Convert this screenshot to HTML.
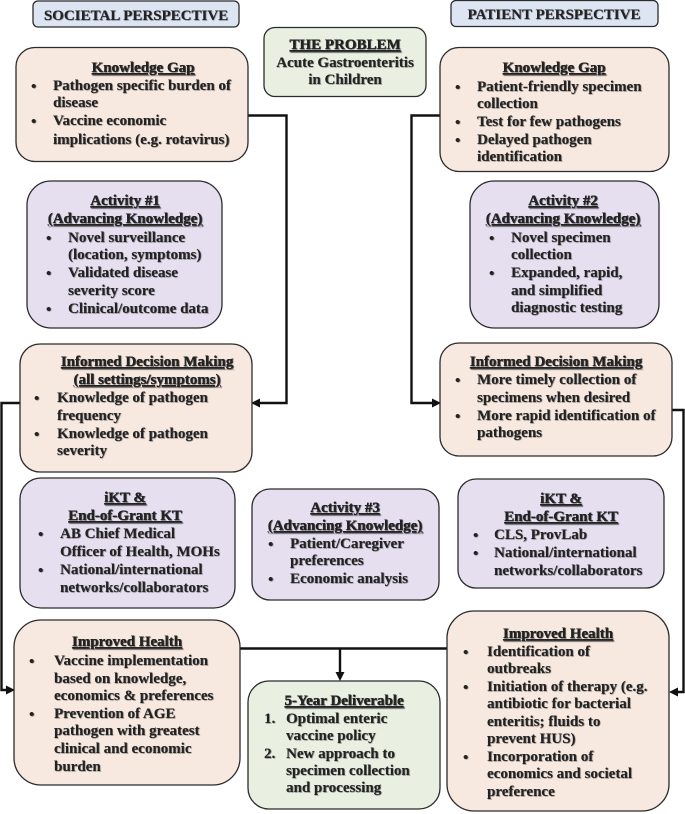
<!DOCTYPE html>
<html><head><meta charset="utf-8"><style>
html,body{margin:0;padding:0;background:#fff;width:685px;height:814px;overflow:hidden}
svg{display:block}
text{font-family:"Liberation Serif",serif;font-weight:bold;font-size:15px;fill:#222;text-shadow:0.7px 0.7px 0.7px rgba(60,60,60,.75)}
.c{text-anchor:middle}
.u{text-decoration:underline}
.b{stroke:#2b2b2b;stroke-width:1.3}
.p{fill:#f8e9e0}.v{fill:#e5dff0}.g{fill:#e9f0e2}.h{fill:#dde5f3}
.l{fill:none;stroke:#111;stroke-width:2.4}
.a{fill:#111}
</style></head><body>
<svg width="685" height="814" viewBox="0 0 685 814" xmlns="http://www.w3.org/2000/svg">
<!-- connectors -->
<path class="l" d="M248 115.500H286.500V403H258"/><path class="a" d="M251 403l9-4.500v9z"/>
<path class="l" d="M20 403H1.500V690H8"/><path class="a" d="M15 690l-9-4.500v9z"/>
<path class="l" d="M240 648.500H447M340 648.500V674"/><path class="a" d="M340 681l-4.500-9h9z"/>
<path class="l" d="M440 115.500H411.500V403H434"/><path class="a" d="M441 403l-9-4.500v9z"/>
<path class="l" d="M672 410H683.500V692H676"/><path class="a" d="M669 692l9-4.500v9z"/>
<!-- boxes -->
<rect class="b h" x="33" y="1" width="206" height="26" rx="5"/>
<rect class="b h" x="451" y="0.500" width="207" height="26" rx="5"/>
<rect class="b g" x="264" y="27.500" width="162" height="69" rx="11"/>
<rect class="b p" x="16" y="47.500" width="232" height="114" rx="19"/>
<rect class="b p" x="440" y="47.500" width="229" height="124" rx="19"/>
<rect class="b v" x="27" y="181" width="195" height="147" rx="24"/>
<rect class="b v" x="470" y="181" width="189" height="147" rx="24"/>
<rect class="b p" x="20" y="344" width="232" height="128" rx="20"/>
<rect class="b p" x="440" y="343" width="232" height="113" rx="19"/>
<rect class="b v" x="20" y="478" width="215" height="130" rx="21"/>
<rect class="b v" x="252" y="489" width="187" height="111" rx="18"/>
<rect class="b v" x="458" y="479" width="206" height="109" rx="18"/>
<rect class="b p" x="14" y="620" width="226" height="165" rx="27"/>
<rect class="b g" x="248" y="681" width="192" height="128" rx="21"/>
<rect class="b p" x="447" y="611" width="222" height="200" rx="27"/>
<!-- headers -->
<text class="c" x="136" y="20">SOCIETAL PERSPECTIVE</text>
<text class="c" x="554" y="19">PATIENT PERSPECTIVE</text>
<!-- problem -->
<text class="c u" x="345" y="49">THE PROBLEM</text>
<text class="c" x="345" y="67">Acute Gastroenteritis</text>
<text class="c" x="345" y="84">in Children</text>
<!-- KG left -->
<text class="c u" x="143" y="72">Knowledge Gap</text>
<text x="31" y="91">•</text><text x="53" y="90">Pathogen specific burden of</text>
<text x="53" y="107">disease</text>
<text x="31" y="126">•</text><text x="53" y="125">Vaccine economic</text>
<text x="53" y="144">implications (e.g. rotavirus)</text>
<!-- KG right -->
<text class="c u" x="554" y="72">Knowledge Gap</text>
<text x="455" y="92">•</text><text x="477" y="91">Patient-friendly specimen</text>
<text x="477" y="108">collection</text>
<text x="455" y="127">•</text><text x="477" y="126">Test for few pathogens</text>
<text x="455" y="145">•</text><text x="477" y="144">Delayed pathogen</text>
<text x="477" y="161">identification</text>
<!-- Activity 1 -->
<text class="c u" x="125" y="205">Activity #1</text>
<text class="c u" x="125" y="223">(Advancing Knowledge)</text>
<text x="46" y="243">•</text><text x="68" y="242">Novel surveillance</text>
<text x="68" y="259">(location, symptoms)</text>
<text x="46" y="278">•</text><text x="68" y="277">Validated disease</text>
<text x="68" y="295">severity score</text>
<text x="46" y="314">•</text><text x="68" y="313">Clinical/outcome data</text>
<!-- Activity 2 -->
<text class="c u" x="563" y="205">Activity #2</text>
<text class="c u" x="563" y="223">(Advancing Knowledge)</text>
<text x="489" y="243">•</text><text x="511" y="242">Novel specimen</text>
<text x="511" y="259">collection</text>
<text x="489" y="278">•</text><text x="511" y="277">Expanded, rapid,</text>
<text x="511" y="295">and simplified</text>
<text x="511" y="312">diagnostic testing</text>
<!-- IDM left -->
<text class="c u" x="147" y="366">Informed Decision Making</text>
<text class="c u" x="147" y="384">(all settings/symptoms)</text>
<text x="34" y="403">•</text><text x="57" y="402">Knowledge of pathogen</text>
<text x="57" y="420">frequency</text>
<text x="34" y="439">•</text><text x="57" y="438">Knowledge of pathogen</text>
<text x="57" y="455">severity</text>
<!-- IDM right -->
<text class="c u" x="556" y="366">Informed Decision Making</text>
<text x="455" y="385">•</text><text x="477" y="384">More timely collection of</text>
<text x="477" y="402">specimens when desired</text>
<text x="455" y="421">•</text><text x="477" y="420">More rapid identification of</text>
<text x="477" y="437">pathogens</text>
<!-- iKT left -->
<text class="c u" x="125" y="502">iKT &amp;</text>
<text class="c u" x="125" y="520">End-of-Grant KT</text>
<text x="38" y="539">•</text><text x="60" y="538">AB Chief Medical</text>
<text x="60" y="556">Officer of Health, MOHs</text>
<text x="38" y="575">•</text><text x="60" y="574">National/international</text>
<text x="60" y="592">networks/collaborators</text>
<!-- Activity 3 -->
<text class="c u" x="345" y="512">Activity #3</text>
<text class="c u" x="345" y="530">(Advancing Knowledge)</text>
<text x="268" y="549">•</text><text x="290" y="548">Patient/Caregiver</text>
<text x="290" y="565">preferences</text>
<text x="268" y="584">•</text><text x="290" y="583">Economic analysis</text>
<!-- iKT right -->
<text class="c u" x="561" y="503">iKT &amp;</text>
<text class="c u" x="561" y="521">End-of-Grant KT</text>
<text x="473" y="540">•</text><text x="494" y="539">CLS, ProvLab</text>
<text x="473" y="558">•</text><text x="494" y="557">National/international</text>
<text x="494" y="575">networks/collaborators</text>
<!-- Improved Health left -->
<text class="c u" x="127" y="646">Improved Health</text>
<text x="29" y="666">•</text><text x="54" y="665">Vaccine implementation</text>
<text x="54" y="683">based on knowledge,</text>
<text x="54" y="700">economics &amp; preferences</text>
<text x="29" y="719">•</text><text x="54" y="718">Prevention of AGE</text>
<text x="54" y="735">pathogen with greatest</text>
<text x="54" y="753">clinical and economic</text>
<text x="54" y="771">burden</text>
<!-- Deliverable -->
<text class="c u" x="344" y="705">5-Year Deliverable</text>
<text x="264" y="723">1.</text><text x="286" y="723">Optimal enteric</text>
<text x="286" y="740">vaccine policy</text>
<text x="264" y="758">2.</text><text x="286" y="758">New approach to</text>
<text x="286" y="775">specimen collection</text>
<text x="286" y="792">and processing</text>
<!-- Improved Health right -->
<text class="c u" x="558" y="638">Improved Health</text>
<text x="463" y="657">•</text><text x="487" y="656">Identification of</text>
<text x="487" y="673">outbreaks</text>
<text x="463" y="692">•</text><text x="487" y="691">Initiation of therapy (e.g.</text>
<text x="487" y="708">antibiotic for bacterial</text>
<text x="487" y="726">enteritis; fluids to</text>
<text x="487" y="743">prevent HUS)</text>
<text x="463" y="762">•</text><text x="487" y="761">Incorporation of</text>
<text x="487" y="778">economics and societal</text>
<text x="487" y="796">preference</text>
</svg>
</body></html>
